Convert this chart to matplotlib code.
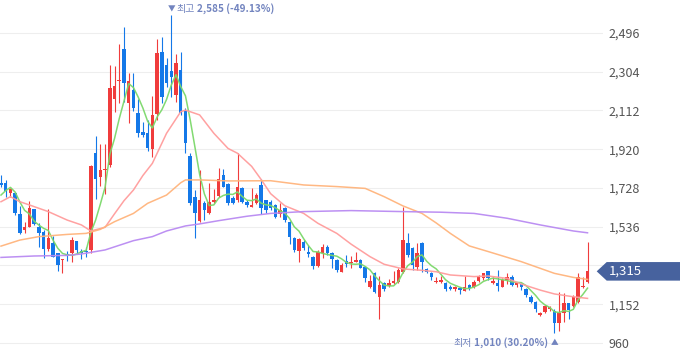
import numpy as np
import matplotlib
matplotlib.use('Agg')
import matplotlib.pyplot as plt
from matplotlib.patches import Polygon
import matplotlib.transforms as mtransforms

plt.rcParams['font.family'] = ['Noto Sans CJK KR', 'DejaVu Sans']

# ---- candle data (O, H, L, C) ----
opens = [1754, 1754, 1702, 1705, 1599, 1520, 1533, 1624, 1536, 1510,
         1424, 1454, 1404, 1371, 1401, 1408, 1465, 1414, 1417, 1421,
         1900, 1784, 1817, 1842, 2167, 2260, 2415, 2151, 2213, 2098,
         2004, 1999, 1919, 2095, 2403, 2337, 2309, 2190, 2313, 2111,
         1886, 1685, 1566, 1655, 1606, 1659, 1688, 1792, 1748, 1677,
         1668, 1726, 1660, 1635, 1652, 1743, 1668, 1660, 1644, 1599,
         1627, 1561, 1482, 1416, 1459, 1412, 1388, 1343, 1404, 1437,
         1404, 1371, 1313, 1366, 1355, 1363, 1371, 1338, 1239, 1305,
         1189, 1259, 1242, 1256, 1264, 1313, 1457, 1429, 1338, 1454,
         1325, 1305, 1262, 1264, 1256, 1236, 1226, 1231, 1219, 1247,
         1239, 1269, 1280, 1317, 1259, 1259, 1239, 1272, 1289, 1246,
         1251, 1226, 1190, 1165, 1099, 1115, 1127, 1120, 1057, 1110,
         1157, 1143, 1165, 1236, 1264]
highs = [1794, 1768, 1726, 1710, 1639, 1559, 1664, 1624, 1553, 1520,
         1622, 1490, 1408, 1378, 1416, 1487, 1465, 1424, 1434, 1840,
         1985, 1944, 1946, 2337, 2334, 2441, 2524, 2296, 2296, 2167,
         2057, 2065, 2184, 2465, 2474, 2370, 2585, 2390, 2403, 2125,
         1900, 1718, 1817, 1665, 1751, 1721, 1825, 1820, 1751, 1688,
         1900, 1735, 1668, 1726, 1701, 1771, 1668, 1668, 1649, 1652,
         1632, 1564, 1487, 1482, 1470, 1445, 1391, 1421, 1449, 1445,
         1409, 1376, 1355, 1396, 1393, 1409, 1376, 1343, 1297, 1310,
         1290, 1264, 1275, 1318, 1330, 1635, 1503, 1437, 1454, 1462,
         1330, 1313, 1285, 1292, 1264, 1247, 1242, 1236, 1292, 1250,
         1270, 1297, 1308, 1318, 1289, 1322, 1280, 1308, 1297, 1264,
         1256, 1231, 1198, 1170, 1115, 1148, 1143, 1127, 1214, 1209,
         1160, 1198, 1305, 1285, 1462]
lows = [1735, 1685, 1682, 1594, 1500, 1503, 1533, 1545, 1437, 1379,
        1417, 1384, 1318, 1305, 1366, 1363, 1408, 1374, 1388, 1408,
        1672, 1740, 1700, 1834, 2106, 2151, 2156, 2048, 2111, 1982,
        1982, 1913, 1880, 2065, 2147, 2230, 2180, 2156, 2090, 1900,
        1644, 1478, 1561, 1569, 1599, 1652, 1682, 1731, 1644, 1649,
        1660, 1652, 1635, 1632, 1649, 1599, 1602, 1619, 1578, 1586,
        1561, 1449, 1412, 1363, 1421, 1388, 1327, 1338, 1379, 1396,
        1333, 1313, 1310, 1338, 1333, 1360, 1330, 1264, 1234, 1206,
        1080, 1219, 1236, 1252, 1256, 1308, 1388, 1322, 1322, 1313,
        1308, 1272, 1259, 1259, 1219, 1222, 1219, 1203, 1216, 1222,
        1234, 1264, 1272, 1272, 1252, 1219, 1236, 1252, 1242, 1239,
        1223, 1190, 1157, 1115, 1094, 1107, 1120, 1010, 1021, 1066,
        1077, 1137, 1157, 1231, 1259]
closes = [1743, 1715, 1725, 1602, 1507, 1536, 1627, 1548, 1503, 1427,
          1482, 1388, 1348, 1374, 1391, 1470, 1421, 1404, 1409, 1838,
          1771, 1817, 1822, 2222, 2233, 2264, 2250, 2258, 2123, 1999,
          1990, 1924, 2090, 2395, 2177, 2247, 2280, 2349, 2098, 1949,
          1652, 1606, 1668, 1619, 1660, 1668, 1773, 1735, 1652, 1652,
          1731, 1660, 1642, 1642, 1693, 1627, 1619, 1627, 1583, 1619,
          1569, 1487, 1421, 1475, 1429, 1399, 1341, 1412, 1437, 1404,
          1376, 1322, 1346, 1350, 1363, 1369, 1333, 1280, 1267, 1214,
          1247, 1226, 1259, 1269, 1322, 1470, 1396, 1346, 1407, 1363,
          1313, 1285, 1269, 1272, 1226, 1226, 1236, 1222, 1236, 1231,
          1262, 1292, 1305, 1280, 1269, 1242, 1272, 1285, 1247, 1256,
          1236, 1198, 1165, 1127, 1110, 1143, 1137, 1057, 1107, 1157,
          1123, 1190, 1289, 1242, 1315]
pre_closes = [1605, 1645, 1720, 1752]   # closes just before the visible window (for MA5)

# moving averages (candle index, value)
ma20_idx = [0, 2, 4, 6, 10, 14, 17, 19, 22, 24, 26, 28, 30, 32, 35, 38, 39, 42, 45, 48,
            50, 53, 55, 57, 60, 64, 67, 71, 74, 78, 81, 85, 89, 92, 95, 100, 103, 107,
            110, 114, 117, 121, 124]
ma20_val = [1660, 1685, 1660, 1644, 1611, 1569, 1545, 1515, 1533, 1600, 1665, 1718, 1790,
            1850, 1999, 2106, 2114, 2090, 1999, 1924, 1900, 1835, 1770, 1700, 1640, 1602,
            1553, 1503, 1450, 1388, 1350, 1327, 1320, 1313, 1297, 1289, 1292, 1280, 1252,
            1222, 1203, 1189, 1181]
ma60_idx = [0, 4, 8, 14, 18, 21, 24, 28, 31, 35, 38, 39, 42, 48, 57, 64, 71, 77, 81, 85,
            89, 92, 95, 99, 103, 110, 117, 121, 124]
ma60_val = [1440, 1470, 1487, 1498, 1503, 1523, 1561, 1602, 1652, 1693, 1754, 1768, 1768,
            1763, 1764, 1743, 1735, 1726, 1685, 1639, 1602, 1555, 1503, 1441, 1413, 1363,
            1305, 1285, 1275]
ma120_idx = [0, 7, 14, 17, 22, 28, 32, 35, 39, 42, 46, 52, 57, 64, 74, 85, 93, 100, 107,
             114, 121, 124]
ma120_val = [1384, 1391, 1394, 1401, 1421, 1467, 1487, 1515, 1540, 1550, 1566, 1588, 1602,
             1611, 1616, 1611, 1608, 1602, 1578, 1545, 1515, 1506]

yticks = [960, 1152, 1344, 1536, 1728, 1920, 2112, 2304, 2496]

UP = '#f03c3c'
DOWN = '#1478e8'

fig = plt.figure(figsize=(6.8, 3.58), dpi=100)
ax = fig.add_axes([0, 0, 603 / 680, 1])

o = np.array(opens, float)
h = np.array(highs, float)
l = np.array(lows, float)
c = np.array(closes, float)
n = len(c)
x = np.arange(n)
cols = [UP if ci >= oi else DOWN for oi, ci in zip(o, c)]

ax.vlines(x, l, h, colors=cols, linewidth=0.8, zorder=2)
body_bottom = np.minimum(o, c)
body_h = np.maximum(np.abs(c - o), 4)
ax.bar(x, body_h, bottom=body_bottom, width=0.74, color=cols, linewidth=0, zorder=2)

# MA5 from closes
allc = np.concatenate([np.array(pre_closes, float), c])
ma5 = np.convolve(allc, np.ones(5) / 5, mode='valid')
ax.plot(x, ma5, color='#7bd86a', lw=1.1, alpha=0.95, zorder=3)
ax.plot(ma20_idx, ma20_val, color='#ff9c9c', lw=1.1, alpha=0.95, zorder=3)
ax.plot(ma60_idx, ma60_val, color='#ffb47c', lw=1.1, alpha=0.95, zorder=3)
ax.plot(ma120_idx, ma120_val, color='#b98af2', lw=1.1, alpha=0.95, zorder=3)

ax.set_xlim(-0.21, 127.27)
ax.set_ylim(885.6, 2659.5)
ax.set_yticks(yticks)
ax.set_yticklabels([f'{t:,}' for t in yticks])
ax.yaxis.tick_right()
ax.tick_params(axis='y', length=0, pad=4, labelsize=9, labelcolor='#555555')
ax.set_xticks([])
ax.yaxis.grid(True, color='#eeeeee', lw=0.8)
ax.set_axisbelow(True)
for s in ax.spines.values():
    s.set_visible(False)

# high / low annotations
lab_col = '#7284bf'
fs_lab = 7.2
ihi = int(np.argmax(h))
ilo = int(np.argmin(l))
last = c[-1]
tr_top = mtransforms.blended_transform_factory(ax.transData, ax.transAxes)
ax.text(ihi, 1 - 9 / 358, '▼', transform=tr_top, ha='center', va='center',
        fontsize=5.5, color=lab_col)
t_hi = ax.annotate('최고', xy=(ihi, 1 - 9 / 358), xycoords=tr_top, xytext=(3.8, 0),
                   textcoords='offset points', ha='left', va='center', fontsize=fs_lab,
                   color=lab_col)
ax.annotate(f'{h[ihi]:,.0f} ({(last - h[ihi]) / h[ihi] * 100:.2f}%)', xy=(1, 0.5),
            xycoords=t_hi, xytext=(1.5, 0), textcoords='offset points', ha='left',
            va='center', fontsize=fs_lab, color=lab_col, fontweight='bold')

ax.text(ilo, 1 - 343 / 358, '▲', transform=tr_top, ha='center', va='center',
        fontsize=5.5, color=lab_col)
t_lo = ax.annotate(f'{l[ilo]:,.0f} ({(last - l[ilo]) / l[ilo] * 100:.2f}%)',
                   xy=(ilo, 1 - 343 / 358), xycoords=tr_top, xytext=(-4.7, 0),
                   textcoords='offset points', ha='right', va='center', fontsize=fs_lab,
                   color=lab_col, fontweight='bold')
ax.annotate('최저', xy=(0, 0.5), xycoords=t_lo, xytext=(-1.5, 0),
            textcoords='offset points', ha='right', va='center', fontsize=fs_lab,
            color=lab_col)

# current price box
tr_box = mtransforms.blended_transform_factory(fig.transFigure, ax.transData)
hh = 46
poly = Polygon([(596.7 / 680, last), (606.7 / 680, last + hh), (1.0, last + hh),
                (1.0, last - hh), (606.7 / 680, last - hh)], closed=True,
               transform=tr_box, facecolor='#47629e', edgecolor='none', clip_on=False,
               zorder=5)
fig.patches.append(poly)
fig.text(609 / 680, last, f'{last:,.0f}', transform=tr_box, ha='left', va='center',
         fontsize=9.5, color='white', zorder=6)

fig.savefig('out.png', dpi=100)
